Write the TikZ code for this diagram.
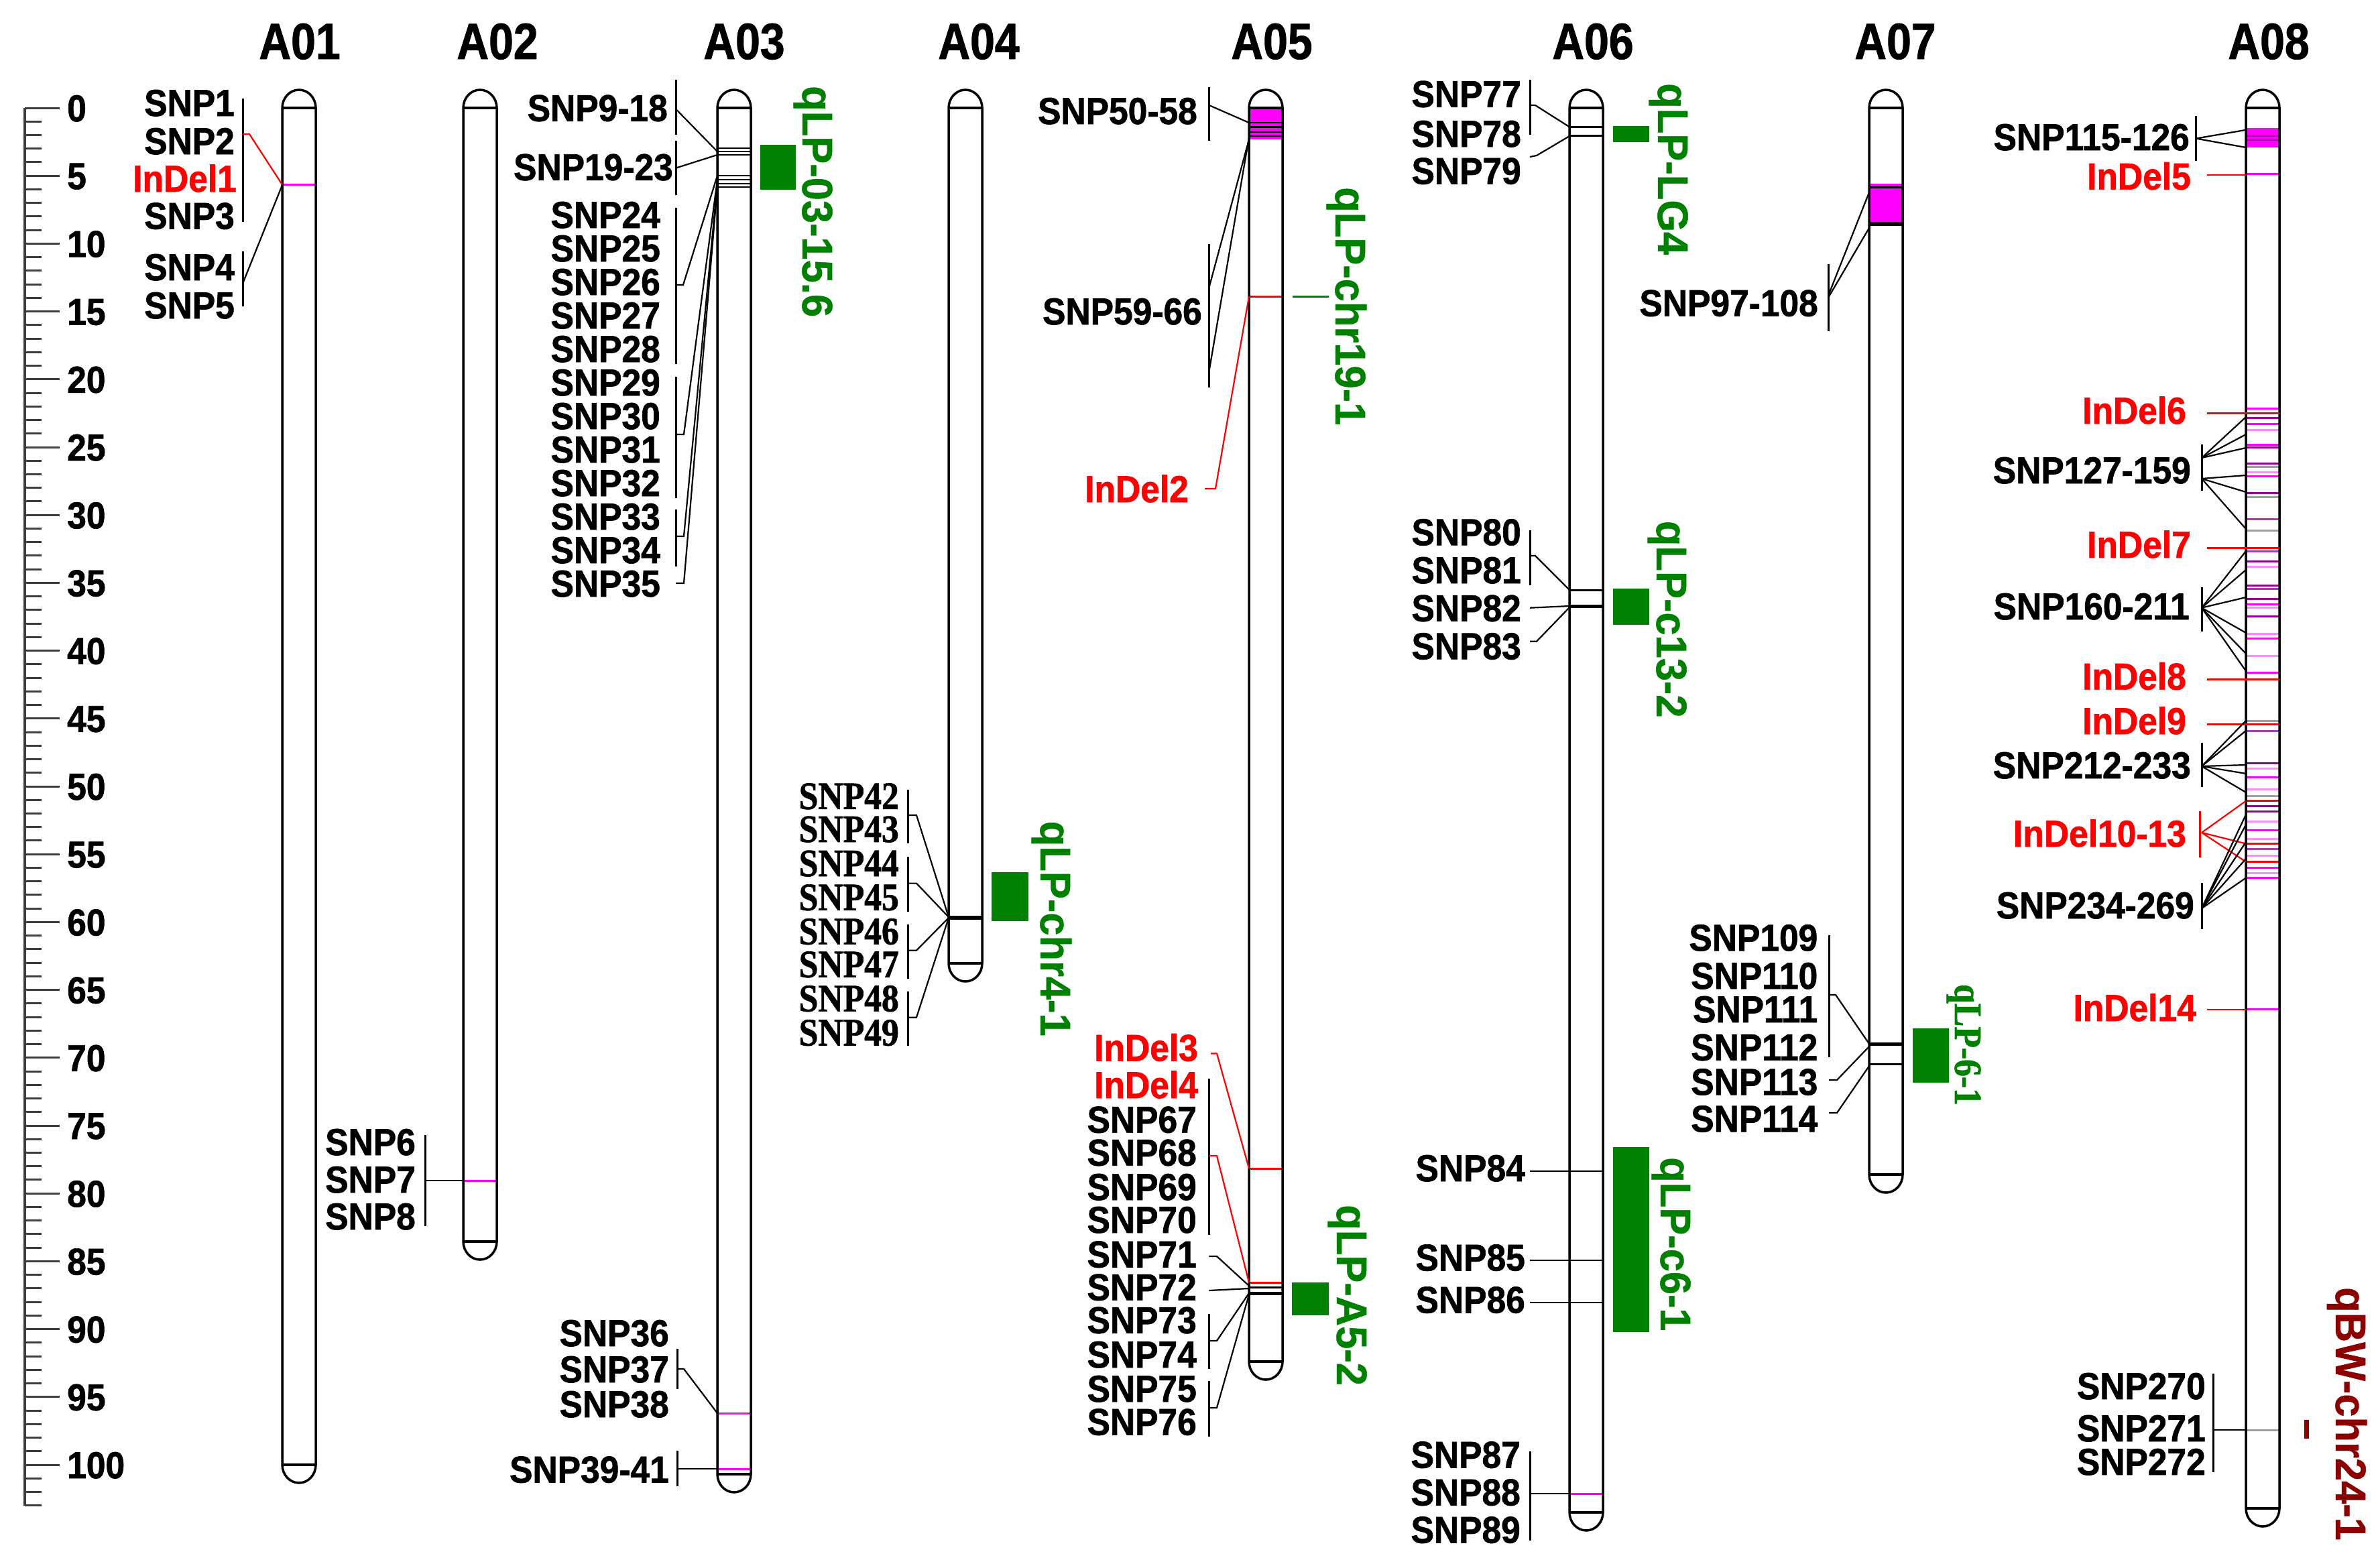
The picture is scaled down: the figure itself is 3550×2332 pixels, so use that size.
\documentclass[tikz,border=0pt]{standalone}
\usepackage{fontspec}
\setmainfont{Liberation Sans}
\newfontfamily\labfont{Liberation Sans}[FakeStretch=0.92,FakeBold=1.2]
\newfontfamily\ttlfont{Liberation Sans}[FakeStretch=0.87,FakeBold=1.2]
\newfontfamily\gfont{Liberation Sans}[FakeStretch=0.96,FakeBold=0.8]
\newfontfamily\serfont{Liberation Serif}[FakeStretch=0.89,FakeBold=1.2]
\definecolor{qgreen}{RGB}{0,128,0}
\definecolor{mag}{RGB}{255,0,255}
\definecolor{pur}{RGB}{150,0,150}
\definecolor{pnk}{RGB}{255,140,255}
\definecolor{gry}{RGB}{160,160,160}
\definecolor{qmaroon}{RGB}{140,0,0}
\definecolor{axc}{RGB}{60,60,60}
\tikzset{
  lbl/.style={anchor=east,inner sep=0pt,text height=40pt,text depth=0pt,font=\labfont\bfseries\fontsize{56}{56}\selectfont},
  slbl/.style={anchor=east,inner sep=0pt,text height=38pt,text depth=0pt,font=\serfont\bfseries\fontsize{58}{58}\selectfont},
  ttl/.style={anchor=base,inner sep=0pt,font=\ttlfont\bfseries\fontsize{76}{76}\selectfont},
  glbl/.style={rotate=-90,anchor=base west,inner sep=0pt,text=qgreen,font=\gfont\bfseries\fontsize{64}{64}\selectfont},
  chr/.style={line width=3.5pt,black},
  con/.style={line width=2.2pt},
  brk/.style={line width=3pt},
  mk/.style={line width=3pt},
}
\newcommand\LB[4]{\node[lbl] (#1) at (#2,#3) {#4};}
\newcommand\LR[4]{\node[lbl,text=red] (#1) at (#2,#3) {#4};}
\newcommand\LS[4]{\node[slbl] (#1) at (#2,#3) {#4};}
\newcommand\GL[4]{\node[glbl] (#1) at (#2,#3) {#4};}
\newcommand\MK[3][black]{\draw[mk,#1] (#2-25,#3) -- (#2+25,#3);}
\newcommand\CHfill[3]{\fill[white] (#1-25,#2) arc[start angle=180,end angle=0,x radius=25pt,y radius=27pt] -- (#1+25,#3) arc[start angle=0,end angle=-180,x radius=25pt,y radius=27pt] -- cycle;}
\newcommand\CHdraw[3]{\draw[chr] (#1-25,#2) arc[start angle=180,end angle=0,x radius=25pt,y radius=27pt] -- (#1+25,#3) arc[start angle=0,end angle=-180,x radius=25pt,y radius=27pt] -- cycle;
  \draw[chr] (#1-25,#2) -- (#1+25,#2) (#1-25,#3) -- (#1+25,#3);}
\begin{document}
\begin{tikzpicture}[x=1pt,y=-1pt]
\useasboundingbox (0,0) rectangle (3550,2332);
% ---------- axis
\draw[line width=4pt,axc] (37,161) -- (37,{161+103*20.24});
\foreach \i in {0,...,103} {\draw[line width=3pt,axc] (37,{161+\i*20.24}) -- (62,{161+\i*20.24});}
\foreach \i in {0,5,...,100} {\draw[line width=3pt,axc] (37,{161+\i*20.24}) -- (89,{161+\i*20.24});
  \node[lbl,anchor=west] (ax\i) at (100,{161+\i*20.24}) {\i};}
% ---------- titles
\node[ttl] (tA01) at (447,88) {A01};
\node[ttl] (tA02) at (742,88) {A02};
\node[ttl] (tA03) at (1110,88) {A03};
\node[ttl] (tA04) at (1460,88) {A04};
\node[ttl] (tA05) at (1897,88) {A05};
\node[ttl] (tA06) at (2376,88) {A06};
\node[ttl] (tA07) at (2827,88) {A07};
\node[ttl] (tA08) at (3384,88) {A08};
% ---------- chromosome bodies
\CHfill{446}{161}{2185}
\CHfill{716}{161}{1852}
\CHfill{1095}{161}{2199}
\CHfill{1440}{161}{1437}
\CHfill{1888}{161}{2031}
\CHfill{2366}{161}{2256}
\CHfill{2813}{161}{1752}
\CHfill{3375}{161}{2250}
% ---------- markers inside
% A01
\MK[mag]{446}{275.5}
% A02
\MK[mag]{716}{1761}
% A03
\foreach \yy in {221,226,231,262,268,274,279} {\draw[line width=2.5pt] (1070,\yy) -- (1120,\yy);}
\MK[mag]{1095}{2108}
\MK[mag]{1095}{2191}
% A04
\draw[line width=6pt] (1415,1368.5) -- (1465,1368.5);
% A05
\fill[mag] (1863,163) rectangle (1913,208);
\foreach \yy in {183,189.5,197,203} {\draw[line width=2.5pt] (1863,\yy) -- (1913,\yy);}
\MK[red]{1888}{442}
\MK[red]{1888}{1743}
\MK[red]{1888}{1913}
\MK{1888}{1920}
\draw[line width=5pt] (1863,1929) -- (1913,1929);
% A06
\MK{2366}{189.4}
\MK{2366}{202.8}
\MK{2366}{880}
\draw[line width=5pt] (2341,904) -- (2391,904);
\MK[mag]{2366}{2228}
% A07
\fill[mag] (2788,273.6) rectangle (2838,331);
\MK{2813}{279.5}
\fill (2788,331) rectangle (2838,337);
\draw[line width=5pt] (2788,1557) -- (2838,1557);
\MK{2813}{1587}
% A08
\fill[mag] (3350,191) rectangle (3400,220);
\draw[line width=2.5pt,pur] (3350,203) -- (3400,203) (3350,209) -- (3400,209);
\MK[mag]{3375}{259}
\foreach \yy/\cc in {609/mag,623/pur,632/mag,641.6/pnk,663/mag,667/pur,691/pur,696/gry,704/pnk,710/mag,735.7/pur,741.8/gry,774/mag,791.8/gry,822/mag,837.7/pur,845/pnk,873/pur,878.5/mag,893.8/pur,901.5/mag,906.5/pnk,919/pur,945/pnk,952/mag,978/pnk,1003.5/mag,1075/gry,1090/mag,1138.6/pur,1146/pnk,1159/mag,1177/pnk,1187/gry,1202/pur,1210/pur,1225/pnk,1238/mag,1251/pnk,1266/mag,1276/pnk,1294/mag,1302/pnk,1309.5/mag}
  {\draw[mk,\cc] (3350,\yy) -- (3400,\yy);}
\foreach \yy in {1194.7,1258.5,1285.5} {\draw[mk,red] (3350,\yy) -- (3400,\yy);}
\MK[mag]{3375}{1505.6}
\MK[gry]{3375}{2133}
% ---------- chromosome outlines
\CHdraw{446}{161}{2185}
\CHdraw{716}{161}{1852}
\CHdraw{1095}{161}{2199}
\CHdraw{1440}{161}{1437}
\CHdraw{1888}{161}{2031}
\CHdraw{2366}{161}{2256}
\CHdraw{2813}{161}{1752}
\CHdraw{3375}{161}{2250}
% ================= A01
\draw[brk] (362,147) -- (362,331) (362,375) -- (362,457);
\draw[con,red] (362,200) -- (372,200) -- (421,275.5);
\draw[con] (362,423) -- (421,276);
\LB{s1}{350}{153}{SNP1}
\LB{s2}{350}{210}{SNP2}
\LR{i1}{353}{266}{InDel1}
\LB{s3}{350}{321.5}{SNP3}
\LB{s4}{350}{398}{SNP4}
\LB{s5}{350}{455}{SNP5}
% ================= A02
\draw[brk] (634,1693) -- (634,1829);
\draw[con] (634,1761) -- (691,1761);
\LB{s6}{620}{1703}{SNP6}
\LB{s7}{620}{1759}{SNP7}
\LB{s8}{620}{1814}{SNP8}
% ================= A03
\draw[brk] (1008,118.6) -- (1008,201) (1008,209.7) -- (1008,291) (1008,310) -- (1008,543)
  (1008,562) -- (1008,743) (1008,760) -- (1008,845);
\draw[con] (1008,162.6) -- (1070,226);
\draw[con] (1008,250.7) -- (1070,231);
\draw[con] (1008,425) -- (1019,425) -- (1070,262);
\draw[con] (1008,648) -- (1020,648) -- (1070,268);
\draw[con] (1008,800) -- (1020,800) -- (1070,274);
\draw[con] (1008,870) -- (1020,870) -- (1070,279);
\LB{s9}{996}{160.7}{SNP9-18}
\LB{s19}{1004}{248.8}{SNP19-23}
\foreach \n in {24,...,35} {\LB{s\n}{985}{{320+50*(\n-24)}}{SNP\n}}
\draw[brk] (1010,2012) -- (1010,2072);
\draw[con] (1010,2042) -- (1020,2042) -- (1070,2108);
\LB{s36}{998}{1988}{SNP36}
\LB{s37}{998}{2042}{SNP37}
\LB{s38}{998}{2094}{SNP38}
\draw[brk] (1010,2164) -- (1010,2217);
\draw[con] (1010,2191) -- (1070,2191);
\LB{s39}{998}{2191.5}{SNP39-41}
\fill[qgreen] (1133.5,216) rectangle (1187,283);
\GL{q1}{1197}{128}{qLP-03-15.6}
% ================= A04
\draw[brk] (1354,1178) -- (1354,1258) (1354,1278) -- (1354,1360) (1354,1379) -- (1354,1460) (1354,1479) -- (1354,1560);
\draw[con] (1354,1216) -- (1367,1216) -- (1415,1368);
\draw[con] (1354,1317.6) -- (1367,1317.6) -- (1415,1368);
\draw[con] (1354,1417.7) -- (1367,1417.7) -- (1415,1369);
\draw[con] (1354,1517.7) -- (1367,1517.7) -- (1415,1369);
\LS{s42}{1341}{1187.8}{SNP42}
\LS{s43}{1341}{1237}{SNP43}
\LS{s44}{1341}{1288}{SNP44}
\LS{s45}{1341}{1338.7}{SNP45}
\LS{s46}{1341}{1389.6}{SNP46}
\LS{s47}{1341}{1438.7}{SNP47}
\LS{s48}{1341}{1489.6}{SNP48}
\LS{s49}{1341}{1540.5}{SNP49}
\fill[qgreen] (1479,1300.8) rectangle (1534,1373.8);
\GL{q2}{1552}{1224.6}{qLP-chr4-1}
% ================= A05
\draw[brk] (1803.5,129.5) -- (1803.5,209.8) (1803.5,363.8) -- (1803.5,578);
\draw[con] (1803.5,157) -- (1863,183);
\draw[con] (1803.5,428.5) -- (1863,208);
\draw[con] (1803.5,553.5) -- (1863,205);
\LB{s50}{1786}{165}{SNP50-58}
\LB{s59}{1793}{464}{SNP59-66}
\draw[con,red] (1863,442) -- (1813,729) -- (1797,729);
\LR{i2}{1773}{729}{InDel2}
\draw[line width=3pt,qgreen] (1928,442) -- (1982,442);
\GL{q3}{1992}{279}{qLP-chr19-1}
\draw[brk] (1803.4,1609) -- (1803.4,1841.5) (1803.4,1960) -- (1803.4,2042) (1803.4,2060) -- (1803.4,2143);
\draw[con,red] (1806,1571.4) -- (1815,1571.4) -- (1863,1743);
\draw[con,red] (1803.4,1724) -- (1815,1724) -- (1863,1913);
\draw[con] (1803.4,1874) -- (1815,1874) -- (1863,1918);
\draw[con] (1803.4,1925) -- (1863,1922);
\draw[con] (1803.4,2000) -- (1815,2000) -- (1863,1929);
\draw[con] (1803.4,2100) -- (1815,2100) -- (1863,1931);
\LR{i3}{1787}{1562.5}{InDel3}
\LR{i4}{1787}{1618}{InDel4}
\LB{s67}{1785}{1669.6}{SNP67}
\LB{s68}{1785}{1718.7}{SNP68}
\LB{s69}{1785}{1770}{SNP69}
\LB{s70}{1785}{1819}{SNP70}
\LB{s71}{1785}{1870.5}{SNP71}
\LB{s72}{1785}{1919.6}{SNP72}
\LB{s73}{1785}{1968.7}{SNP73}
\LB{s74}{1785}{2020}{SNP74}
\LB{s75}{1785}{2071}{SNP75}
\LB{s76}{1785}{2120.5}{SNP76}
\fill[qgreen] (1927,1913) rectangle (1982,1962);
\GL{q4}{1994}{1797}{qLP-A5-2}
% ================= A06
\draw[brk] (2282,118.6) -- (2282,201) (2282,790.7) -- (2282,873) (2282,2165) -- (2282,2298);
\draw[con] (2282,157) -- (2290,157) -- (2341,189.4);
\draw[con] (2282,234) -- (2292,232) -- (2341,203);
\draw[con] (2282,829) -- (2290,829) -- (2341,880);
\draw[con] (2282,906.7) -- (2341,904);
\draw[con] (2282,956.7) -- (2292,956.7) -- (2341,906);
\draw[con] (2282,1747) -- (2391,1747);
\draw[con] (2282,1880) -- (2391,1880);
\draw[con] (2282,1943) -- (2391,1943);
\draw[con] (2282,2228) -- (2341,2228);
\LB{s77}{2269}{139.7}{SNP77}
\LB{s78}{2269}{199}{SNP78}
\LB{s79}{2269}{254.5}{SNP79}
\LB{s80}{2269}{793.3}{SNP80}
\LB{s81}{2269}{850}{SNP81}
\LB{s82}{2269}{906.7}{SNP82}
\LB{s83}{2269}{963.3}{SNP83}
\LB{s84}{2275}{1742}{SNP84}
\LB{s85}{2275}{1875.4}{SNP85}
\LB{s86}{2275}{1938.4}{SNP86}
\LB{s87}{2268}{2169.5}{SNP87}
\LB{s88}{2268}{2225.5}{SNP88}
\LB{s89}{2268}{2281.5}{SNP89}
\fill[qgreen] (2405.5,188) rectangle (2459.5,212.4);
\fill[qgreen] (2405.6,878.3) rectangle (2459.6,931.7);
\fill[qgreen] (2406,1710.6) rectangle (2460,1986.5);
\GL{q5}{2473}{124}{qLP-LG4}
\GL{q6}{2471}{776.7}{qLP-c13-2}
\GL{q7}{2477}{1726}{qLP-c6-1}
% ================= A07
\draw[brk] (2727,394) -- (2727,493.7);
\draw[con] (2727,441) -- (2788,287);
\draw[con] (2727,444) -- (2788,340);
\LB{s97}{2712}{451.6}{SNP97-108}
\draw[brk] (2728,1395) -- (2728,1576.7);
\draw[con] (2728,1484) -- (2738,1484) -- (2788,1557);
\draw[con] (2728,1611) -- (2740,1611) -- (2788,1561);
\draw[con] (2728,1660) -- (2740,1660) -- (2788,1590);
\LB{s109}{2711.5}{1398.3}{SNP109}
\LB{s110}{2711.5}{1455}{SNP110}
\LB{s111}{2711.5}{1505}{SNP111}
\LB{s112}{2711.5}{1561.7}{SNP112}
\LB{s113}{2711.5}{1613.3}{SNP113}
\LB{s114}{2711.5}{1668.3}{SNP114}
\fill[qgreen] (2853,1534) rectangle (2907,1615);
\node[rotate=-90,anchor=base west,inner sep=0pt,text=qgreen,font=\serfont\bfseries\fontsize{58}{58}\selectfont] (q8) at (2916,1468) {qLP-6-1};
% ================= A08
\draw[brk] (3275.6,173) -- (3275.6,240) (3284,663) -- (3284,732) (3284,876) -- (3284,942)
  (3284,1108) -- (3284,1174) (3284,1317) -- (3284,1386) (3301,2049) -- (3301,2196);
\draw[brk,red] (3281,1210) -- (3281,1279);
\draw[con] (3275.6,206.6) -- (3350,193.8) (3275.6,206.6) -- (3350,220);
\draw[con,red] (3292,261) -- (3350,261);
\draw[mk,red] (3292,616) -- (3400,616);
\draw[mk,red] (3292,817) -- (3400,817);
\draw[mk,red] (3292,1013.7) -- (3400,1013.7);
\draw[mk,red] (3292,1080) -- (3400,1080);
\draw[con,red] (3292,1505.6) -- (3350,1505.6);
\foreach \yy in {622,648,668} {\draw[con] (3284,683) -- (3350,\yy);}
\foreach \yy in {709,734,789} {\draw[con] (3284,714) -- (3350,\yy);}
\foreach \yy in {822,850,891,944,975,1001} {\draw[con] (3284,906.6) -- (3350,\yy);}
\foreach \yy in {1075,1090,1141,1154,1182} {\draw[con] (3284,1143) -- (3350,\yy);}
\foreach \yy in {1194.7,1258.5,1285.5} {\draw[con,red] (3284,1242) -- (3350,\yy);}
\foreach \yy in {1215,1230,1256,1281,1309.5} {\draw[con] (3284,1355) -- (3350,\yy);}
\draw[con] (3301,2133) -- (3350,2133);
\LB{s115}{3266}{204}{SNP115-126}
\LR{i5}{3268}{262.6}{InDel5}
\LR{i6}{3261}{612}{InDel6}
\LB{s127}{3268}{701}{SNP127-159}
\LR{i7}{3268}{812}{InDel7}
\LB{s160}{3266}{904}{SNP160-211}
\LR{i8}{3261}{1008.6}{InDel8}
\LR{i9}{3261}{1075}{InDel9}
\LB{s212}{3268}{1141}{SNP212-233}
\LR{i10}{3261}{1243}{InDel10-13}
\LB{s234}{3273}{1350}{SNP234-269}
\LR{i14}{3276}{1503}{InDel14}
\LB{s270}{3290}{2067}{SNP270}
\LB{s271}{3290}{2130}{SNP271}
\LB{s272}{3290}{2180}{SNP272}
\fill[qmaroon] (3437,2118) rectangle (3444,2146);
\node[glbl,text=qmaroon] (q9) at (3484,1920) {qBW-chr24-1};
\end{tikzpicture}
\end{document}
